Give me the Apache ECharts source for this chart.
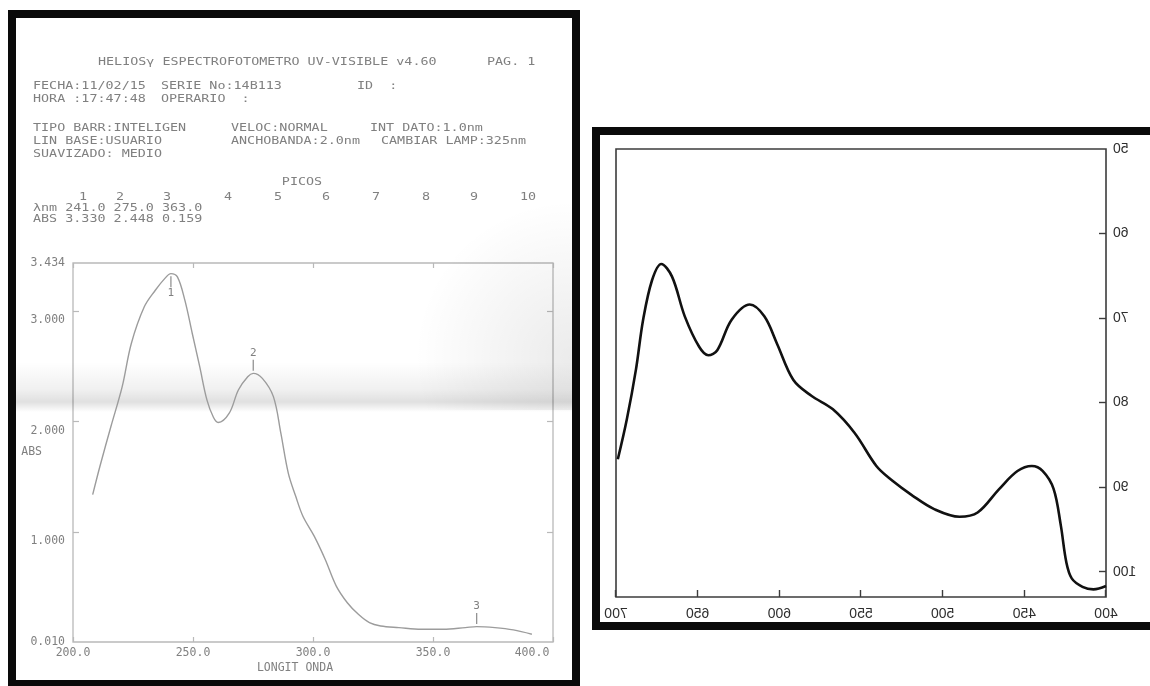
<!DOCTYPE html>
<html>
<head>
<meta charset="utf-8">
<script src="https://cdn.jsdelivr.net/npm/echarts@6/dist/echarts.min.js"></script>
<style>
html,body{margin:0;padding:0;background:#ffffff;}
#wrap{position:relative;width:1150px;height:686px;overflow:hidden;}
#left{position:absolute;left:0;top:0;width:1150px;height:686px;}
#right{position:absolute;left:588px;top:120px;width:562px;height:520px;transform:scaleX(-1);transform-origin:50% 50%;}
</style>
</head>
<body>
<div id="wrap"><div id="left"></div><div id="right"></div></div>
<script>
// ---------- LEFT: UV-VIS absorbance printout ----------
const leftWavelength = [208.2,211.2,215.8,220.5,224.3,229.7,234.3,238.2,240.8,243.5,246.6,249.7,252.8,255.8,258.5,260.5,265.1,268.9,272.8,275.1,278.9,283.5,286.6,289.7,292.8,295.8,300.5,305.1,309.7,314.3,318.9,323.5,328.2,335.8,345.1,354.3,363.5,368.2,375.8,383.5,391.2];
const leftAbsorbance = [1.341,1.596,1.957,2.317,2.707,3.038,3.188,3.293,3.338,3.308,3.098,2.797,2.497,2.197,2.040,1.993,2.077,2.287,2.407,2.437,2.392,2.227,1.897,1.536,1.326,1.146,0.966,0.755,0.515,0.365,0.260,0.185,0.155,0.140,0.125,0.125,0.140,0.149,0.140,0.119,0.080];
const leftXTicks = [200,250,300,350,400];
const leftYLabels = [0.010,1.000,2.000,3.000,3.434];
const leftYTicks = [1,2,3];
const peakLabels = ['1','2','3'];
const peakWavelength = [240.8,275.1,368.2];
const peakAbs = [3.338,2.437,0.149];
const tablePeakNm = ['241.0','275.0','363.0'];
const tablePeakAbs = ['3.330','2.448','0.159'];

// ---------- RIGHT: transmittance scan (mirrored photo) ----------
const rightWavelength = [698.9,693.4,687.8,683.4,677.9,672.3,665.7,657.9,649.1,643.5,638.0,629.2,618.1,609.2,601.5,591.5,580.4,567.2,553.9,540.6,531.7,518.5,505.2,489.7,478.6,465.3,454.2,445.4,438.7,432.1,427.7,424.3,421.0,414.4,407.7,400.0];
const rightValue = [86.7,82.0,76.1,70.2,65.5,63.6,65.1,69.8,73.4,74.4,73.8,70.2,68.4,69.8,73.0,77.3,79.2,80.8,83.6,87.5,89.1,91.0,92.6,93.5,93.0,90.2,88.1,87.5,88.1,90.2,94.5,98.9,100.8,101.8,102.1,101.7];
const rightXTicks = [400,450,500,550,600,650,700];
const rightYLabels = [50,60,70,80,90,100];
const rightYTicks = [60,70,80,90,100];

const MONO = '"DejaVu Sans Mono", "Liberation Mono", monospace';
const INK = '#808080';

const leftData = leftWavelength.map((w,i)=>[w,leftAbsorbance[i]]);
const rightData = rightWavelength.map((w,i)=>[w,rightValue[i]]);

function txt(x,y,text,opts){
  opts = opts||{};
  return {type:'text', x:x, y:y, scaleY:opts.sy||0.8, z:20,
    style:{text:text, fill:opts.fill||INK, font:(opts.size||13.4)+'px '+MONO,
      textAlign:opts.align||'left', textVerticalAlign:'middle', align:opts.align||'left', verticalAlign:'middle'}};
}
const headerRows = [
  [98,62,'HELIOSγ ESPECTROFOTOMETRO UV-VISIBLE v4.60'],[487,62,'PAG. 1'],
  [33,86,'FECHA:11/02/15'],[161,86,'SERIE No:14B113'],[357,86,'ID  :'],
  [33,99,'HORA :17:47:48'],[161,99,'OPERARIO  :'],
  [33,128,'TIPO BARR:INTELIGEN'],[231,128,'VELOC:NORMAL'],[370,128,'INT DATO:1.0nm'],
  [33,141,'LIN BASE:USUARIO'],[231,141,'ANCHOBANDA:2.0nm'],[381,141,'CAMBIAR LAMP:325nm'],
  [33,154,'SUAVIZADO: MEDIO'],
  [33,208,'λnm '+tablePeakNm.join(' ')],
  [33,219,'ABS '+tablePeakAbs.join(' ')]
];
const picoCols = [83,120,167,228,278,326,376,426,474,528];
const graphics = [];
// paper shading band
graphics.push({type:'rect', z:1, shape:{x:16,y:362,width:556,height:50},
  style:{fill:new echarts.graphic.LinearGradient(0,0,0,1,[
    {offset:0,color:'rgba(0,0,0,0)'},{offset:0.55,color:'rgba(0,0,0,0.06)'},
    {offset:0.8,color:'rgba(0,0,0,0.12)'},{offset:1,color:'rgba(0,0,0,0)'}])}});
graphics.push({type:'rect', z:1, shape:{x:300,y:200,width:272,height:210},
  style:{fill:new echarts.graphic.RadialGradient(1,0.75,0.75,[
    {offset:0,color:'rgba(0,0,0,0.08)'},{offset:1,color:'rgba(0,0,0,0)'}])}});
headerRows.forEach(r=>graphics.push(txt(r[0],r[1],r[2])));
graphics.push(txt(302,182,'PICOS',{align:'center'}));
picoCols.forEach((x,i)=>graphics.push(txt(x,197,String(i+1),{align:'center'})));
// black frames
const K='#0a0a0a';
[[8,10,572,8],[8,10,8,676],[572,10,8,676],[8,680,572,8],
 [592,127,600,8],[592,127,8,503],[592,622,600,8]].forEach(r=>{
  graphics.push({type:'rect', z:30, shape:{x:r[0],y:r[1],width:r[2],height:r[3]}, style:{fill:K}});
});

const axisGrey = '#b9b9b9';
const optionL = {
  animation:false,
  backgroundColor:'#ffffff',
  graphic:graphics,
  grid:{left:73,right:597,top:263,bottom:44,show:true,borderColor:axisGrey,borderWidth:1.3,backgroundColor:'transparent'},
  xAxis:[{
    type:'value',min:leftXTicks[0],max:leftXTicks[leftXTicks.length-1],interval:50,
    axisLine:{show:false},splitLine:{show:false},
    axisTick:{inside:true,length:5,lineStyle:{color:axisGrey,width:1.2}},
    axisLabel:{margin:5,
      formatter:v=>(v===400 ? '{r|'+v.toFixed(1)+'}' : '{c|'+v.toFixed(1)+'}'),
      rich:{c:{fontFamily:MONO,fontSize:11.5,color:INK},
            r:{fontFamily:MONO,fontSize:11.5,color:INK,padding:[0,42,0,0]}}},
    name:'LONGIT ONDA',nameLocation:'middle',nameGap:20,nameMoveOverlap:false,
    nameTextStyle:{fontFamily:MONO,fontSize:11.5,color:INK,padding:[0,36,0,0]}
  },{
    type:'value',position:'top',min:200,max:400,interval:50,
    axisLine:{show:false},splitLine:{show:false},axisLabel:{show:false},
    axisTick:{inside:true,length:5,lineStyle:{color:axisGrey,width:1.2}}
  }],
  yAxis:[{
    type:'value',min:leftYLabels[0],max:leftYLabels[leftYLabels.length-1],
    axisLine:{show:false},splitLine:{show:false},
    axisTick:{inside:true,length:6,customValues:leftYTicks,lineStyle:{color:axisGrey,width:1.2}},
    axisLabel:{customValues:leftYLabels,margin:8,
      formatter:v=>(Math.abs(v-Math.round(v))<1e-9 ? '{d|'+v.toFixed(3)+'}' : '{e|'+v.toFixed(3)+'}'),
      rich:{d:{fontFamily:MONO,fontSize:11.5,color:INK,padding:[18,0,0,0]},
            e:{fontFamily:MONO,fontSize:11.5,color:INK}}},
    name:'ABS',nameLocation:'middle',nameGap:31,nameRotate:0,nameMoveOverlap:false,
    nameTextStyle:{fontFamily:MONO,fontSize:11.5,color:INK,padding:[16,0,0,0]}
  },{
    type:'value',position:'right',min:0.010,max:3.434,
    axisLine:{show:false},splitLine:{show:false},axisLabel:{show:false},
    axisTick:{inside:true,length:6,customValues:leftYTicks,lineStyle:{color:axisGrey,width:1.2}}
  }],
  series:[{
    type:'line',data:leftData,smooth:0.35,showSymbol:false,z:10,
    lineStyle:{color:'#9c9c9c',width:1.4},
    markPoint:{symbol:'rect',silent:true,
      data:peakLabels.map((p,i)=>({
        coord:[peakWavelength[i],peakAbs[i]],
        symbolSize:[1.2,11],
        symbolOffset:[0,i===0?8:-8],
        itemStyle:{color:'#8a8a8a'},
        label:{show:true,formatter:p,position:i===0?'bottom':'top',distance:1,
          fontFamily:MONO,fontSize:11,color:INK}
      }))}
  }]
};

const DARK='#2e2e2e';
const optionR = {
  animation:false,
  grid:{left:44,right:28,top:29,bottom:43,show:true,borderColor:'#3c3c3c',borderWidth:1.6,backgroundColor:'transparent'},
  xAxis:{
    type:'value',min:rightXTicks[0],max:rightXTicks[rightXTicks.length-1],interval:50,
    axisLine:{show:false},splitLine:{show:false},
    axisTick:{inside:true,length:7,lineStyle:{color:'#3c3c3c',width:1.4}},
    axisLabel:{color:DARK,fontFamily:'"Liberation Sans", Arial, sans-serif',fontSize:14,margin:10}
  },
  yAxis:{
    type:'value',min:50,max:103,inverse:true,
    axisLine:{show:false},splitLine:{show:false},
    axisTick:{inside:true,length:7,customValues:rightYTicks,lineStyle:{color:'#3c3c3c',width:1.4}},
    axisLabel:{customValues:rightYLabels,color:DARK,fontFamily:'"Liberation Sans", Arial, sans-serif',fontSize:14,margin:7}
  },
  series:[{
    type:'line',data:rightData,smooth:0.35,showSymbol:false,
    lineStyle:{color:'#111111',width:2.6}
  }]
};

echarts.init(document.getElementById('left'),null,{renderer:'canvas'}).setOption(optionL);
echarts.init(document.getElementById('right'),null,{renderer:'canvas'}).setOption(optionR);
</script>
</body>
</html>
